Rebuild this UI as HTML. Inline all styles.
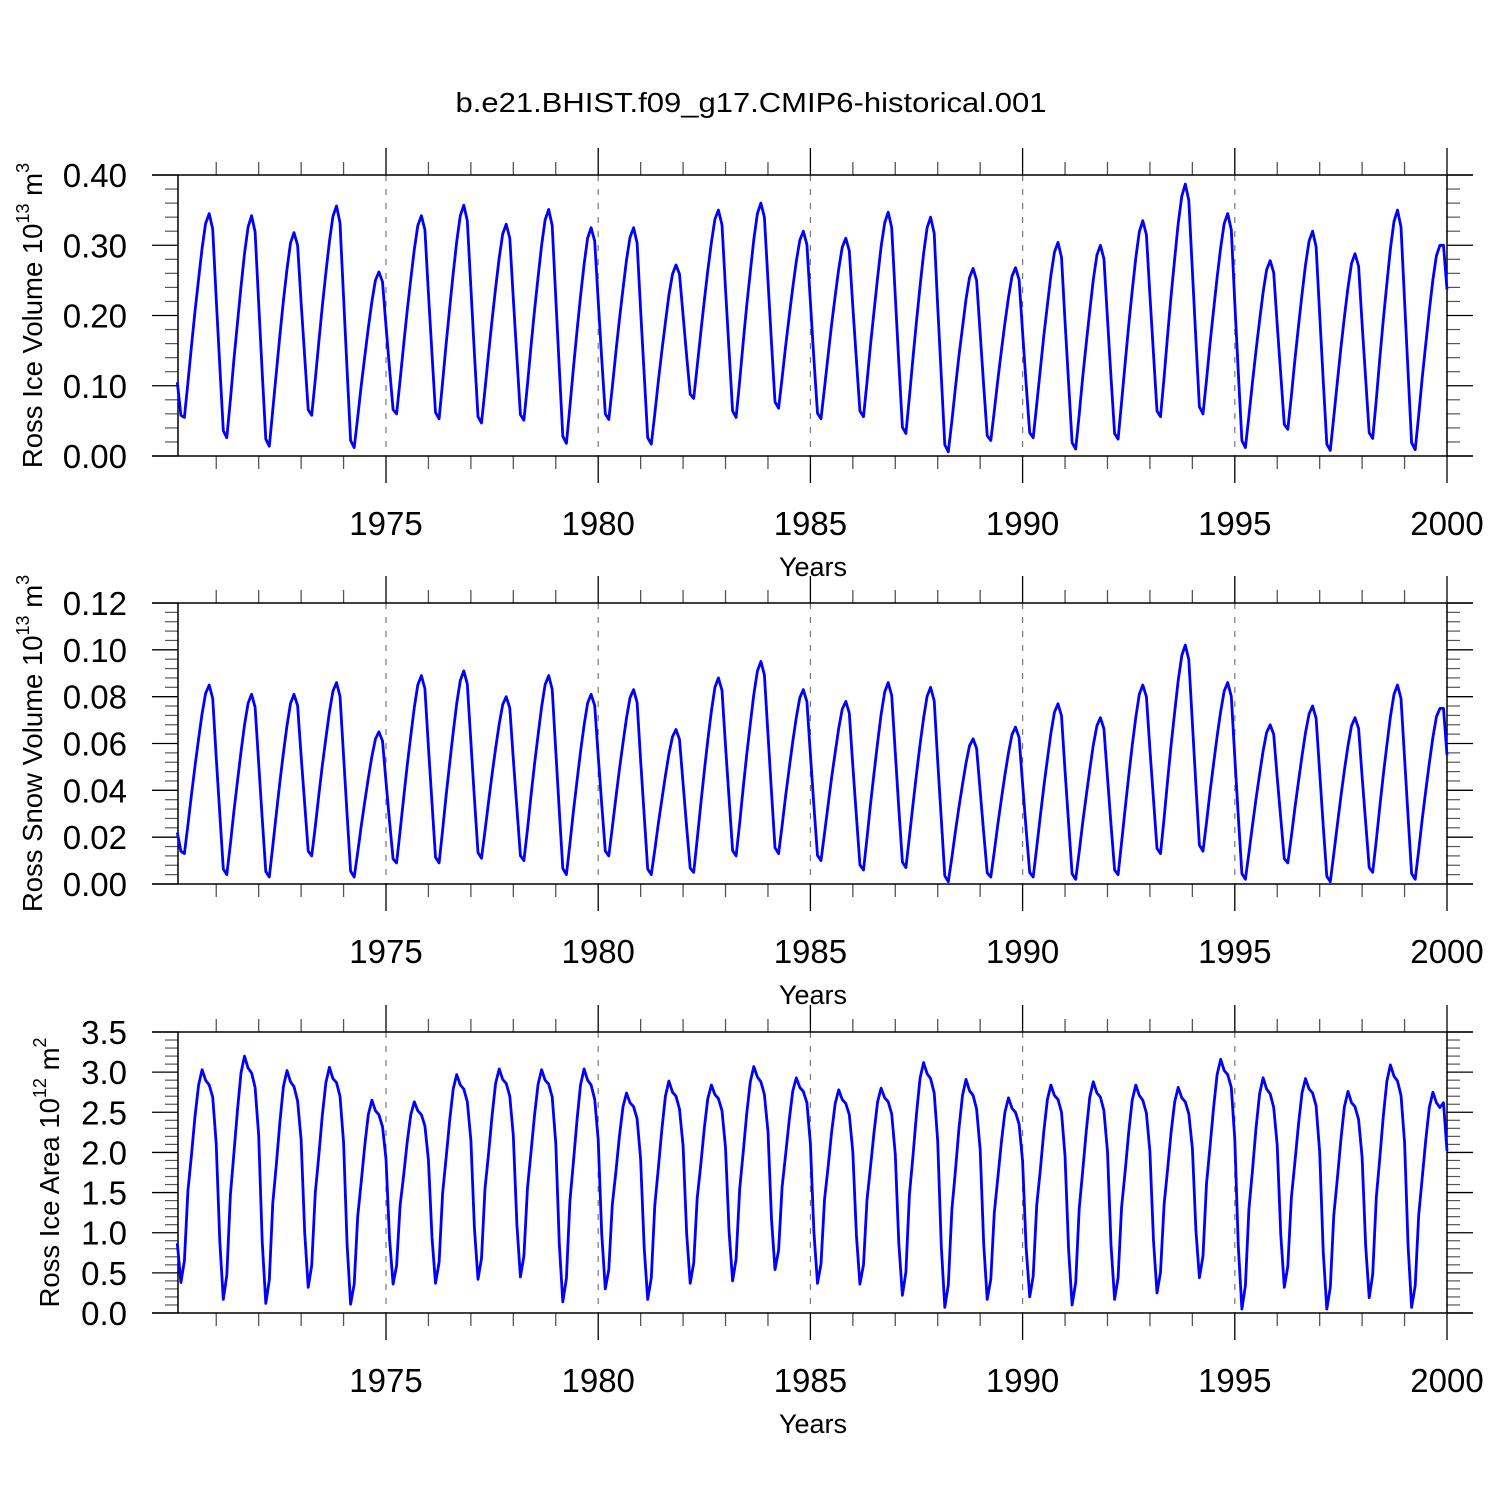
<!DOCTYPE html>
<html><head><meta charset="utf-8"><title>Ross Ice</title>
<style>html,body{margin:0;padding:0;background:#fff}svg{display:block}text{font-family:"Liberation Sans",sans-serif;fill:#000}</style>
</head><body>
<svg id="chart" width="1500" height="1500" viewBox="0 0 1500 1500" xmlns="http://www.w3.org/2000/svg">
<rect width="1500" height="1500" fill="#fff"/>
<text x="751" y="112" font-size="28" text-anchor="middle" textLength="591" lengthAdjust="spacingAndGlyphs">b.e21.BHIST.f09_g17.CMIP6-historical.001</text>
</svg>
<script>
// ---- data (monthly, Jan 1970 .. Dec 1999) ----
const xTickYears = [1975, 1980, 1985, 1990, 1995, 2000];
const volTicks = ["0.00","0.10","0.20","0.30","0.40"];
const snowTicks = ["0.00","0.02","0.04","0.06","0.08","0.10","0.12"];
const areaTicks = ["0.0","0.5","1.0","1.5","2.0","2.5","3.0","3.5"];
// Ross ice volume, units 0.001 x 10^13 m^3
const iceVolume = [
105,58,55,104,157,206,252,296,331,345,323,224,
128,36,26,80,137,190,241,288,326,342,319,217,
119,24,14,66,120,172,221,266,303,318,300,219,
141,66,58,109,162,213,261,305,341,356,332,225,
122,22,12,55,100,142,182,220,250,262,248,185,
125,66,60,108,159,207,252,294,328,342,322,232,
145,62,53,105,159,211,260,305,342,357,335,239,
146,56,47,95,146,194,239,282,316,330,310,224,
140,59,51,102,156,207,255,300,336,351,328,224,
125,28,18,70,125,178,227,273,310,325,306,221,
139,60,52,98,148,194,238,279,311,325,303,208,
116,26,17,60,106,150,190,229,259,272,259,200,
143,88,82,128,176,221,264,304,337,350,329,238,
149,64,55,107,162,214,262,308,345,360,340,249,
161,77,68,111,156,199,239,277,307,320,301,219,
138,61,53,97,143,187,228,266,297,310,292,213,
137,64,56,105,158,207,254,298,332,347,325,227,
133,41,32,84,140,192,241,288,325,340,317,213,
113,16,6,50,97,142,183,223,254,267,250,174,
100,29,22,64,108,150,189,226,256,268,251,176,
103,33,26,73,123,171,215,257,290,304,283,192,
104,19,10,59,112,161,207,251,286,300,281,195,
112,32,24,77,133,186,235,282,319,335,315,229,
145,64,56,112,172,228,281,331,370,387,364,263,
165,70,60,108,160,208,254,297,331,345,322,218,
119,22,12,57,105,150,193,233,265,278,261,187,
115,45,38,86,137,185,230,272,306,320,298,201,
108,17,8,56,106,154,198,240,274,288,270,188,
109,33,25,80,139,194,246,295,334,350,326,220,
118,19,9,58,111,160,207,251,285,300,300,237];
// Ross snow volume, units 0.0001 x 10^13 m^3
const snowVolume = [
220,140,130,252,382,504,620,728,814,850,793,542,
299,64,40,171,310,440,564,679,772,810,755,514,
280,53,30,163,303,436,560,677,771,810,762,548,
341,141,120,246,379,505,623,734,823,860,802,545,
296,55,30,135,247,352,452,545,619,650,611,437,
269,107,90,226,370,506,634,754,850,890,834,586,
346,114,90,229,377,516,648,771,869,910,854,606,
366,134,110,227,352,469,579,683,766,800,751,534,
324,121,100,234,377,511,637,756,851,890,831,567,
312,66,40,171,310,440,564,679,772,810,762,548,
341,141,120,241,369,489,603,709,795,830,775,530,
293,64,40,145,257,362,462,555,629,660,617,428,
245,68,50,191,341,482,614,739,839,880,827,591,
363,143,120,261,411,552,684,809,909,950,893,638,
392,155,130,249,375,494,606,711,795,830,779,553,
334,122,100,216,338,454,562,664,746,780,730,506,
290,82,60,196,340,476,604,724,820,860,805,560,
323,94,70,201,340,470,594,709,802,840,782,525,
276,35,10,114,224,327,425,516,590,620,579,396,
219,48,30,139,254,363,465,561,638,670,625,427,
235,49,30,156,289,415,533,644,733,770,718,485,
260,43,20,137,262,379,489,593,676,710,663,455,
254,60,40,178,324,461,591,712,810,850,800,576,
360,152,130,281,442,593,735,869,976,1020,958,686,
422,166,140,262,392,514,630,738,824,860,801,541,
289,45,20,132,251,363,469,568,647,680,639,456,
279,108,90,204,325,438,546,646,727,760,708,475,
250,33,10,129,255,374,486,591,675,710,664,459,
261,70,50,186,330,466,594,714,810,850,792,535,
286,45,20,144,276,400,516,626,714,750,750,550];
// Ross ice area, units 0.01 x 10^12 m^2
const iceArea = [
87,38,65,152,197,245,284,303,290,284,269,211,
89,17,47,147,199,253,299,320,305,299,281,221,
89,12,41,137,186,238,282,302,288,282,264,216,
100,32,59,150,196,246,287,306,292,287,270,212,
85,11,36,120,163,209,247,265,252,247,232,192,
93,36,59,134,172,213,247,263,252,247,233,191,
94,37,63,149,193,240,279,297,284,279,263,215,
106,42,68,155,199,246,286,304,291,286,270,221,
110,45,71,156,200,246,285,303,290,285,269,211,
86,14,43,139,188,240,284,304,290,284,266,216,
99,30,54,135,176,220,257,274,262,257,242,192,
81,17,44,134,180,229,270,289,275,270,254,208,
100,37,62,143,185,230,267,284,272,267,252,206,
101,40,67,155,200,248,288,307,294,288,272,226,
117,54,78,157,197,240,276,293,281,276,262,211,
101,37,61,141,182,225,261,278,266,261,247,201,
97,36,60,141,182,226,263,280,268,263,248,197,
87,22,51,147,196,248,292,312,298,292,274,214,
83,7,35,129,177,229,271,291,277,271,254,203,
86,17,42,125,168,213,250,268,255,250,235,189,
82,20,46,134,178,226,266,284,271,266,250,196,
79,10,38,130,177,227,269,288,274,269,252,201,
85,17,44,132,177,225,265,284,271,265,249,201,
90,25,51,135,179,225,263,281,268,263,248,205,
103,44,71,161,207,256,297,316,302,297,281,216,
83,5,34,129,178,230,273,293,279,273,256,209,
97,32,58,144,188,235,274,292,279,274,258,200,
77,5,32,122,168,216,257,276,262,257,241,194,
83,19,48,144,193,245,289,309,295,289,271,212,
83,7,34,122,168,216,256,275,262,256,262,202];

const NS = "http://www.w3.org/2000/svg";
const svg = document.getElementById("chart");
const X0 = 178, X1 = 1447;
function xScale(t){ return 386 + (t - 1975) * (1447 - 386) / 25; }
function mk(tag, attrs, parent){
  const e = document.createElementNS(NS, tag);
  for (const k in attrs) e.setAttribute(k, attrs[k]);
  (parent || svg).appendChild(e);
  return e;
}
function panel(cfg){
  const g = mk("g", {});
  
  
  const top = cfg.top, bot = top + 281;
  const yScale = v => bot - (v - cfg.min) / (cfg.max - cfg.min) * 281;
  const axisCol = "#000", minorCol = "#555";
  xTickYears.forEach(y => {
    if (y >= 2000) return;
    const l = mk("line", {x1:xScale(y), x2:xScale(y), y1:top, y2:bot, stroke:"#777", "stroke-width":1.2, "stroke-dasharray":"6,8"}, g);
    
    
  });
  for (let y = 1971; y < 2000; y++){
    if (y % 5 === 0) continue;
    const xx = xScale(y);
    mk("line", {x1:xx,x2:xx,y1:top-13,y2:top,stroke:minorCol,"stroke-width":1.3}, g);
    mk("line", {x1:xx,x2:xx,y1:bot,y2:bot+13,stroke:minorCol,"stroke-width":1.3}, g);
  }
  xTickYears.forEach(y => {
    const xx = xScale(y);
    mk("line", {x1:xx,x2:xx,y1:top-27,y2:top,stroke:axisCol,"stroke-width":1.3}, g);
    mk("line", {x1:xx,x2:xx,y1:bot,y2:bot+27,stroke:axisCol,"stroke-width":1.3}, g);
    const t = mk("text", {x:xx, y:bot+79, "font-size":33, "text-anchor":"middle"}, g);
    
    
    t.textContent = y;
  });
  const nMaj = cfg.ticks.length;
  const step = (cfg.max - cfg.min) / (nMaj - 1);
  for (let i = 0; i < nMaj; i++){
    const v = cfg.min + i * step;
    const yy = yScale(v);
    mk("line", {x1:152,x2:X0,y1:yy,y2:yy,stroke:axisCol,"stroke-width":1.3}, g);
    mk("line", {x1:X1,x2:1473,y1:yy,y2:yy,stroke:axisCol,"stroke-width":1.3}, g);
    const t = mk("text", {x:127, y:yy+12, "font-size":33, "text-anchor":"end"}, g);
    
    
    t.textContent = cfg.ticks[i];
    if (i < nMaj - 1){
      for (let k = 1; k < 5; k++){
        const ym = yScale(v + step * k / 5);
        mk("line", {x1:165,x2:X0,y1:ym,y2:ym,stroke:minorCol,"stroke-width":1.2}, g);
        mk("line", {x1:X1,x2:1460,y1:ym,y2:ym,stroke:minorCol,"stroke-width":1.2}, g);
      }
    }
  }
  // frame
  mk("line", {x1:152,x2:1473,y1:top,y2:top,stroke:axisCol,"stroke-width":1.5}, g);
  mk("line", {x1:152,x2:1473,y1:bot,y2:bot,stroke:axisCol,"stroke-width":1.5}, g);
  mk("line", {x1:X0,x2:X0,y1:top,y2:bot,stroke:axisCol,"stroke-width":1.5}, g);
  mk("line", {x1:X1,x2:X1,y1:top,y2:bot,stroke:axisCol,"stroke-width":1.5}, g);
  const pts = cfg.data.map((v, i) => {
    const t = 1970 + (i + 1) / 12;
    return xScale(t).toFixed(1) + "," + yScale(v * cfg.unit).toFixed(1);
  }).join(" ");
  const pl = mk("polyline", {points:pts, fill:"none", stroke:"#0000ff", "stroke-width":2.8, "stroke-linejoin":"round"}, g);
  
  
  const xt = mk("text", {x:813, y:bot+120, "font-size":27, "text-anchor":"middle"}, g);
  
  
  xt.textContent = "Years";
  const cy = (top + bot) / 2;
  const yt = mk("text", {x:0, y:0, "font-size":27.5, "text-anchor":"middle", transform:"translate(" + (cfg.titleX + 9) + "," + cy + ") rotate(-90)"}, g);
  
  
  yt.appendChild(document.createTextNode(cfg.title + " 10"));
  const s1 = mk("tspan", {"font-size":18, dy:-13}, yt); s1.textContent = cfg.exp1;
  const s2 = mk("tspan", {dy:13}, yt); s2.textContent = " m";
  const s3 = mk("tspan", {"font-size":18, dy:-13}, yt); s3.textContent = cfg.exp2;
}
panel({name:"ice-volume-panel", top:175, min:0, max:0.4, ticks:volTicks, data:iceVolume, unit:0.001, title:"Ross Ice Volume", exp1:"13", exp2:"3", titleX:33});
panel({name:"snow-volume-panel", top:603, min:0, max:0.12, ticks:snowTicks, data:snowVolume, unit:0.0001, title:"Ross Snow Volume", exp1:"13", exp2:"3", titleX:33});
panel({name:"ice-area-panel", top:1032, min:0, max:3.5, ticks:areaTicks, data:iceArea, unit:0.01, title:"Ross Ice Area", exp1:"12", exp2:"2", titleX:50});
</script>
</body></html>
